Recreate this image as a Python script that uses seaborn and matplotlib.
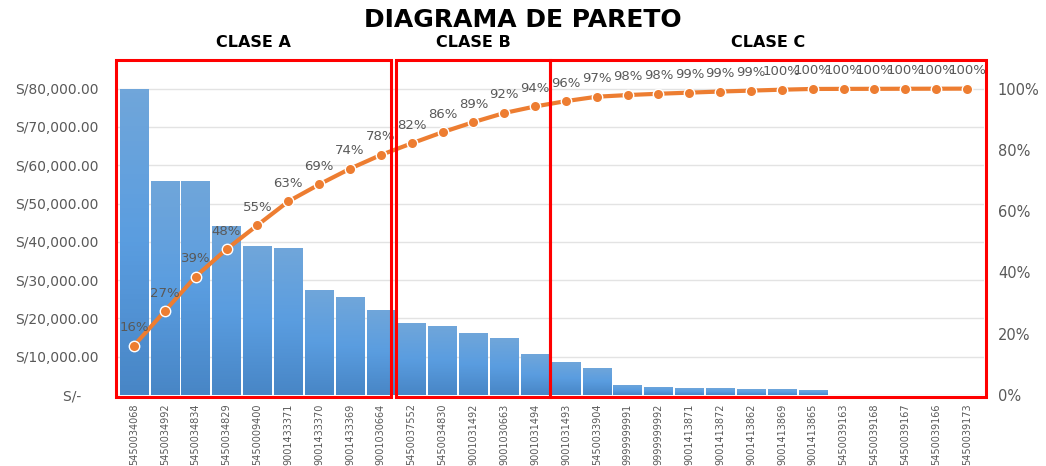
import matplotlib
matplotlib.use("Agg")
import numpy as np
import pandas as pd
import seaborn as sns
import matplotlib.pyplot as plt
from matplotlib.patches import Rectangle
from matplotlib.colors import LinearSegmentedColormap
from matplotlib.ticker import FuncFormatter, PercentFormatter

codes = ["5450034068", "5450034992", "5450034834", "5450034829", "5450009400",
         "9001433371", "9001433370", "9001433369", "9001030664", "5450037552",
         "5450034830", "9001031492", "9001030663", "9001031494", "9001031493",
         "5450033904", "9999999991", "9999999992", "9001413871", "9001413872",
         "9001413862", "9001413869", "9001413865", "5450039163", "5450039168",
         "5450039167", "5450039166", "5450039173"]
amounts = [80000, 56000, 56000, 44200, 38900, 38500, 27500, 25500, 22300,
           18800, 18100, 16300, 14800, 10600, 8700, 7100, 2700, 2100,
           1800, 1800, 1500, 1500, 1200, 100, 100, 100, 100, 100]
class_names = ["CLASE A", "CLASE B", "CLASE C"]
class_sizes = [9, 5, 14]

df = pd.DataFrame({"codigo": codes, "monto": amounts})
df["acum"] = df["monto"].cumsum() / df["monto"].sum()

sns.set_style("white")
plt.rcParams["font.family"] = ["DejaVu Sans"]
gray = "#595959"

fig = plt.figure(figsize=(10.46, 4.66), dpi=100)
ax = fig.add_axes([117 / 1046, 71 / 466, 867 / 1046, 337 / 466])

sns.barplot(data=df, x="codigo", y="monto", color="#5b9bd5", saturation=1,
            width=0.92, linewidth=0, ax=ax)

# excel-like vertical gradient on each bar
grad_cmap = LinearSegmentedColormap.from_list(
    "bar", ["#4886c6", "#5a9de0", "#70a6da"])
grad = np.linspace(0, 1, 64).reshape(-1, 1)
for bar in list(ax.patches):
    x0, w, h = bar.get_x(), bar.get_width(), bar.get_height()
    im = ax.imshow(grad, extent=[x0, x0 + w, 0, h], origin="lower",
                   aspect="auto", cmap=grad_cmap, zorder=bar.get_zorder() + 0.1)
    im.set_clip_path(bar)

ax.set_ylim(0, 88000)
ax.set_yticks(range(0, 80001, 10000))
ax.yaxis.set_major_formatter(FuncFormatter(
    lambda v, p: "S/-    " if v == 0 else f"S/{v:,.2f}"))
ax.grid(axis="y", color="#e3e3e3", lw=1)
ax.set_axisbelow(True)
ax.set_xlabel("")
ax.set_ylabel("")
ax.tick_params(axis="x", rotation=90, labelsize=7, colors=gray, length=0, pad=6)
ax.tick_params(axis="y", labelsize=10, colors=gray, length=0, pad=13)

ax2 = ax.twinx()
xs = np.arange(len(df))
sns.lineplot(x=xs, y=df["acum"].values, ax=ax2, color="#ed7d31", lw=3,
             marker="o", markersize=7.5, markeredgecolor="white",
             markeredgewidth=1)
ax2.set_ylim(0, 1.1)
ax2.set_yticks(np.arange(0, 1.01, 0.2))
ax2.yaxis.set_major_formatter(PercentFormatter(1.0, decimals=0))
ax2.tick_params(axis="y", labelsize=10.5, colors=gray, length=0, pad=10)
ax2.set_ylabel("")
for i, p in enumerate(df["acum"]):
    ax2.annotate(f"{p * 100:.0f}%", (i, p), xytext=(0, 13),
                 textcoords="offset points", ha="center", va="center",
                 fontsize=9.5, color=gray)

for a in (ax, ax2):
    a.set_xlim(-0.55, 27.55)
    for s in a.spines.values():
        s.set_visible(False)

# class boxes
edges = np.concatenate([[0], np.cumsum(class_sizes)]) - 0.5
edges[0] = -0.57
edges[-1] = 27.6
trans = ax2.get_xaxis_transform()
for k, name in enumerate(class_names):
    x0, x1 = edges[k], edges[k + 1]
    if k == 0:
        x1 -= 0.18
    ax2.add_patch(Rectangle((x0, -0.006), x1 - x0, 1.0, transform=trans,
                            fill=False, ec="#ff0000", lw=2.2, clip_on=False,
                            zorder=10))
    ax2.text((x0 + x1) / 2, 1.045, name, transform=trans, ha="center",
             va="center", fontsize=11.5, fontweight="bold", color="black")

fig.text(0.5, 1 - 20 / 466, "DIAGRAMA DE PARETO", ha="center", va="center",
         fontsize=18, fontweight="bold", color="black")

fig.savefig("out.png", dpi=100)
